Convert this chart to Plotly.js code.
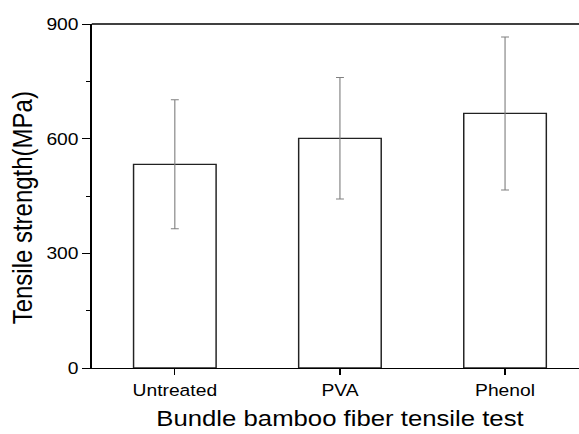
<!DOCTYPE html>
<html>
<head>
<meta charset="utf-8">
<script src="https://cdn.plot.ly/plotly-3.0.1.min.js"></script>
<style>
  html, body { margin: 0; padding: 0; overflow: hidden; background: #fff; }
  #wrap { width: 579px; height: 434px; overflow: hidden; }
  #chart { width: 511px; height: 434px; transform: scaleX(1.1331); transform-origin: 0 0; }
</style>
</head>
<body>
<div id="wrap"><div id="chart"></div></div>
<script>
const categories = ["Untreated", "PVA", "Phenol"];
const strength = [533, 601, 666];
const strengthErr = [169, 159, 200];
const yTickVals = [0, 300, 600, 900];
const xTitle = "Bundle bamboo fiber tensile test";
const yTitle = "Tensile strength(MPa)";

const trace = {
  type: "bar",
  x: categories,
  y: strength,
  width: 0.5,
  marker: { color: "#ffffff", line: { color: "#222222", width: 1.3 } },
  error_y: { type: "data", array: strengthErr, visible: true, color: "#808080", thickness: 1, width: 3.5 },
  hoverinfo: "none"
};

const layout = {
  width: 511,
  height: 434,
  margin: { l: 81, r: 0, t: 24, b: 66 },
  paper_bgcolor: "#ffffff",
  plot_bgcolor: "#ffffff",
  showlegend: false,
  font: { family: "Arial, 'Liberation Sans', sans-serif", color: "#000000" },
  xaxis: {
    type: "category",
    range: [-0.503, 2.448],
    showline: true, linecolor: "#000000", linewidth: 1.3,
    ticks: "outside", ticklen: 6, tickwidth: 1, tickcolor: "#000000",
    showgrid: false, zeroline: false,
    tickfont: { size: 17 }
  },
  yaxis: {
    range: [0, 900],
    tickvals: yTickVals,
    showline: true, linecolor: "#000000", linewidth: 1.3,
    ticks: "outside", ticklen: 7, tickwidth: 1, tickcolor: "#000000",
    minor: { dtick: 150, ticks: "outside", ticklen: 4, tickcolor: "#000000", showgrid: false },
    showgrid: false, zeroline: false,
    tickfont: { size: 17 }
  },
  annotations: [
    { text: xTitle, xref: "paper", yref: "paper", x: 0.5116, y: -0.188, xanchor: "center", yanchor: "bottom",
      showarrow: false, font: { size: 22.7, color: "#000000" } },
    { text: yTitle, xref: "paper", yref: "paper", x: -0.142, y: 0.4666, xanchor: "center", yanchor: "middle",
      textangle: -90, showarrow: false, font: { size: 24, color: "#000000" } }
  ],
  shapes: [
    { type: "line", xref: "paper", yref: "paper", x0: 0, x1: 1, y0: 1, y1: 1, line: { color: "#000000", width: 1.3 } }
  ]
};

Plotly.newPlot("chart", [trace], layout, { displayModeBar: false, staticPlot: true });
</script>
</body>
</html>
